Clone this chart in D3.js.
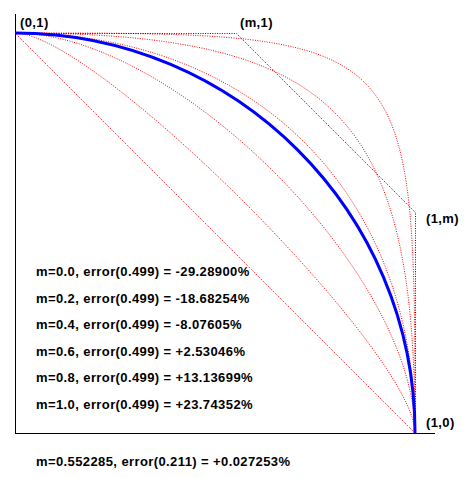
<!DOCTYPE html>
<html>
<head>
<meta charset="utf-8">
<script src="https://cdn.jsdelivr.net/npm/d3@7"></script>
<style>
  body { margin: 0; background: #fff; }
  text { font-family: "Liberation Sans", Arial, sans-serif; font-weight: bold; font-size: 13px; letter-spacing: 0.4px; fill: #000; }
</style>
</head>
<body>
<svg id="chart" width="476" height="478"></svg>
<script>
// control parameter for each dotted trial curve
const mValues = [0.0, 0.2, 0.4, 0.6, 0.8, 1.0];
const errorLabels = [
  "m=0.0, error(0.499) = -29.28900%",
  "m=0.2, error(0.499) = -18.68254%",
  "m=0.4, error(0.499) = -8.07605%",
  "m=0.6, error(0.499) = +2.53046%",
  "m=0.8, error(0.499) = +13.13699%",
  "m=1.0, error(0.499) = +23.74352%"
];
const bestM = 0.552285;
const bestLabel = "m=0.552285, error(0.211) = +0.027253%";

var svg = d3.select('#chart');

// unit square -> pixels
var x = d3.scaleLinear().domain([0, 1]).range([15, 415]);
var y = d3.scaleLinear().domain([0, 1]).range([433, 33]);

// bezier from (0,1) via (m,1), (1,m) to (1,0)
function bezier(m) {
  var p = d3.path();
  p.moveTo(x(0), y(1));
  p.bezierCurveTo(x(m), y(1), x(1), y(m), x(1), y(0));
  return p.toString();
}

// axes
svg.append('line')
  .attr('x1', x(0) + 0.5).attr('x2', x(0) + 0.5)
  .attr('y1', 14).attr('y2', y(0) + 0.5)
  .attr('stroke', '#000').attr('stroke-width', 1);
svg.append('line')
  .attr('x1', x(0)).attr('x2', 435)
  .attr('y1', y(0) + 0.5).attr('y2', y(0) + 0.5)
  .attr('stroke', '#000').attr('stroke-width', 1);

// dotted trial curves
svg.selectAll('path.trial')
  .data(mValues)
  .enter().append('path')
  .attr('class', 'trial')
  .attr('d', function(m) { return bezier(m); })
  .attr('fill', 'none')
  .attr('stroke', '#ff0000')
  .attr('stroke-width', 1)
  .attr('stroke-dasharray', '1,1.4');

// control polygon of the best curve
var poly = [[0, 1], [bestM, 1], [1, bestM], [1, 0]];
svg.append('path')
  .attr('d', d3.line().x(function(d) { return x(d[0]) + 0.5; }).y(function(d) { return y(d[1]) + 0.5; })(poly))
  .attr('fill', 'none')
  .attr('stroke', '#0000ff')
  .attr('stroke-width', 1)
  .attr('stroke-dasharray', '1,1.4');

// best curve
svg.append('path')
  .attr('d', bezier(bestM))
  .attr('fill', 'none')
  .attr('stroke', '#0000ff')
  .attr('stroke-width', 3);

// corner labels
var corners = [
  {t: "(0,1)", px: x(0) + 5, py: 27},
  {t: "(m,1)", px: x(bestM) + 4, py: 27},
  {t: "(1,m)", px: x(1) + 11, py: y(bestM) + 11},
  {t: "(1,0)", px: x(1) + 11, py: y(0) - 6}
];
svg.selectAll('text.corner')
  .data(corners)
  .enter().append('text')
  .attr('class', 'corner')
  .attr('x', function(d) { return d.px; })
  .attr('y', function(d) { return d.py; })
  .text(function(d) { return d.t; });

// error readouts
svg.selectAll('text.err')
  .data(errorLabels)
  .enter().append('text')
  .attr('class', 'err')
  .attr('x', 36)
  .attr('y', function(d, i) { return 276 + i * 26.6; })
  .text(function(d) { return d; });

svg.append('text')
  .attr('x', 36)
  .attr('y', 466)
  .text(bestLabel);
</script>
</body>
</html>
